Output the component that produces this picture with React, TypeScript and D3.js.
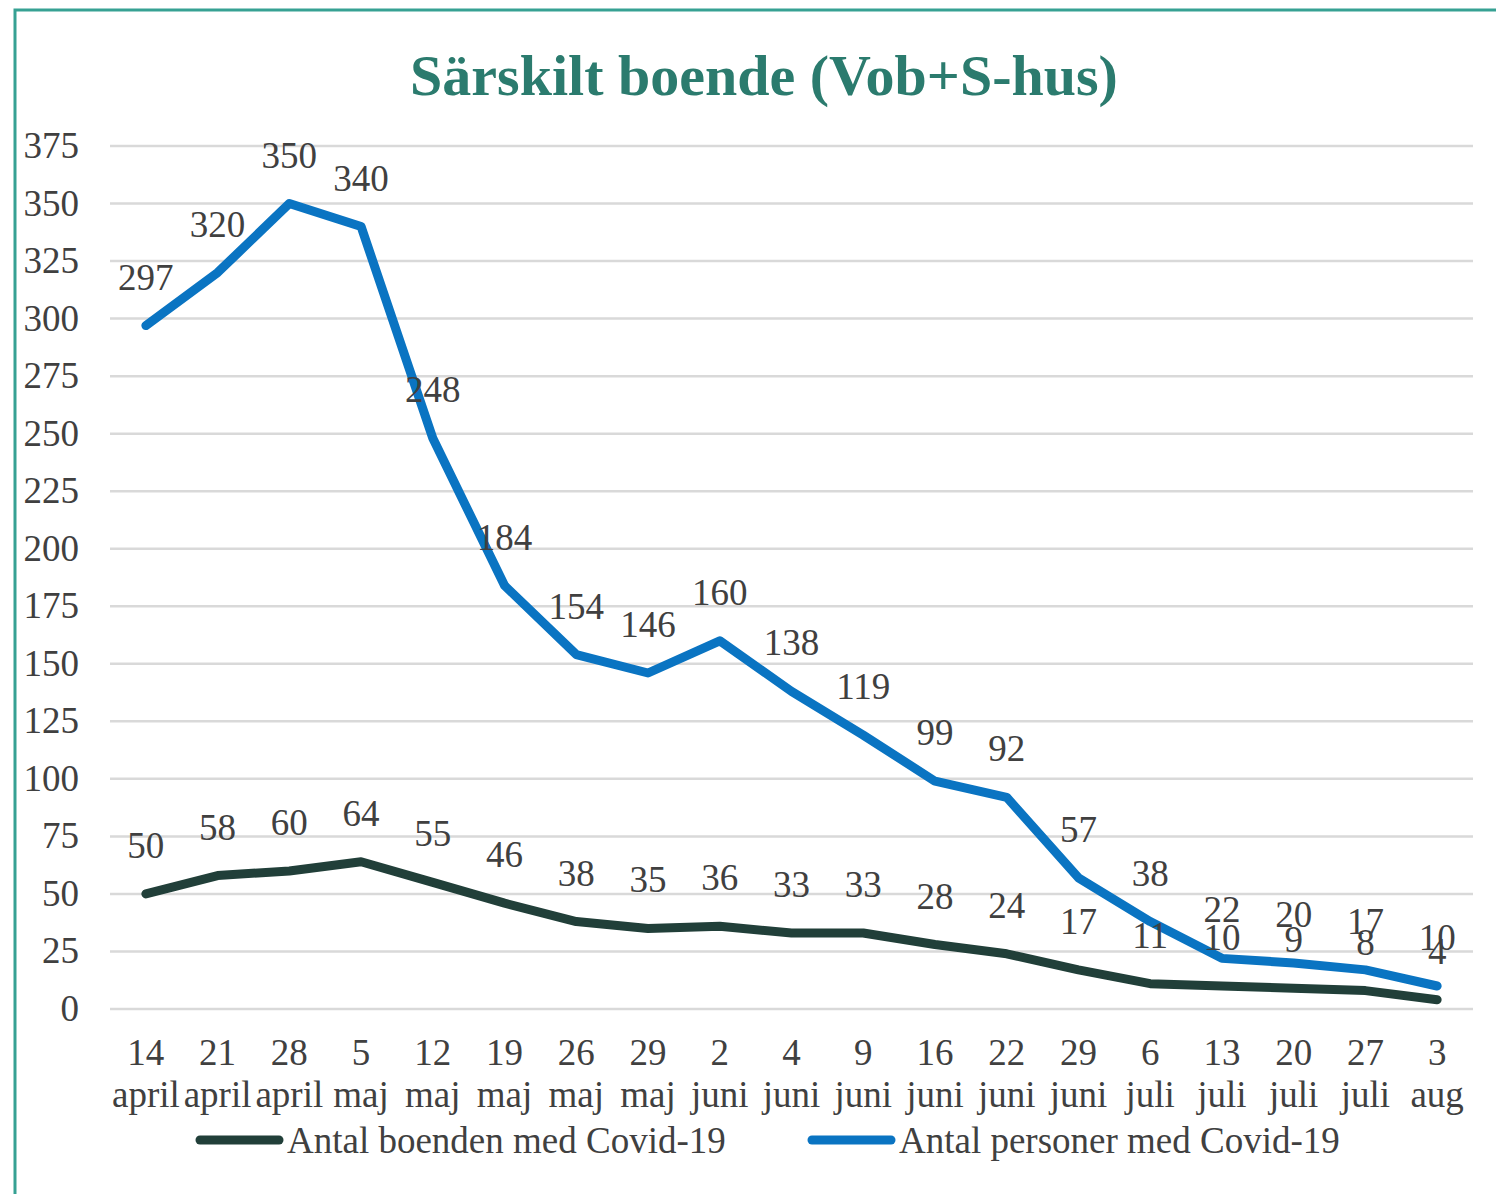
import React, { useEffect, useRef } from 'react';
import * as d3 from 'd3';

const dayLabels = ['14', '21', '28', '5', '12', '19', '26', '29', '2', '4', '9', '16', '22', '29', '6', '13', '20', '27', '3'];
const monthLabels = ['april', 'april', 'april', 'maj', 'maj', 'maj', 'maj', 'maj', 'juni', 'juni', 'juni', 'juni', 'juni', 'juni', 'juli', 'juli', 'juli', 'juli', 'aug'];
const boenden = [50, 58, 60, 64, 55, 46, 38, 35, 36, 33, 33, 28, 24, 17, 11, 10, 9, 8, 4];
const personer = [297, 320, 350, 340, 248, 184, 154, 146, 160, 138, 119, 99, 92, 57, 38, 22, 20, 17, 10];
const yTicks = [0, 25, 50, 75, 100, 125, 150, 175, 200, 225, 250, 275, 300, 325, 350, 375];

const seriesNames = ['Antal boenden med Covid-19', 'Antal personer med Covid-19'];
const seriesColors = ['#213F39', '#0A74C2'];

export default function App() {
  const svgRef = useRef<SVGSVGElement>(null);

  useEffect(() => {
    const width = 1496;
    const height = 1194;
    const svg = d3.select(svgRef.current);
    svg.selectAll('*').remove();
    svg.attr('width', width).attr('height', height);

    const font = '"Liberation Serif", "Times New Roman", serif';
    const textColor = '#404040';
    const fs = 37;

    svg.append('rect').attr('width', width).attr('height', height).attr('fill', '#fff');

    // ram runt diagrammet
    svg.append('path')
      .attr('d', `M15,${height + 5} L15,10 L${width + 5},10`)
      .attr('fill', 'none')
      .attr('stroke', '#36A193')
      .attr('stroke-width', 3);

    svg.append('text')
      .attr('x', 764)
      .attr('y', 95)
      .attr('text-anchor', 'middle')
      .attr('font-family', font)
      .attr('font-weight', 'bold')
      .attr('font-size', 58)
      .attr('fill', '#2B7B6E')
      .text('Särskilt boende (Vob+S-hus)');

    const x = d3.scalePoint<number>()
      .domain(d3.range(dayLabels.length))
      .range([110, 1473])
      .padding(0.5);

    const y = d3.scaleLinear().domain([0, 375]).range([1009, 146]);

    // rutnät
    svg.append('g')
      .selectAll('line')
      .data(yTicks)
      .enter().append('line')
      .attr('x1', 110)
      .attr('x2', 1473)
      .attr('y1', d => y(d))
      .attr('y2', d => y(d))
      .attr('stroke', '#D9D9D9')
      .attr('stroke-width', 2.5);

    svg.append('g')
      .selectAll('text')
      .data(yTicks)
      .enter().append('text')
      .attr('x', 79)
      .attr('y', d => y(d) + 12)
      .attr('text-anchor', 'end')
      .attr('font-family', font)
      .attr('font-size', fs)
      .attr('fill', textColor)
      .text(d => d);

    const xl = svg.append('g')
      .attr('font-family', font)
      .attr('font-size', fs)
      .attr('fill', textColor)
      .attr('text-anchor', 'middle');

    xl.selectAll('text.day')
      .data(dayLabels)
      .enter().append('text')
      .attr('class', 'day')
      .attr('x', (d, i) => x(i)!)
      .attr('y', 1065)
      .text(d => d);

    xl.selectAll('text.month')
      .data(monthLabels)
      .enter().append('text')
      .attr('class', 'month')
      .attr('x', (d, i) => x(i)!)
      .attr('y', 1107)
      .text(d => d);

    const line = d3.line<number>()
      .x((d, i) => x(i)!)
      .y(d => y(d));

    const allSeries = [boenden, personer];

    allSeries.forEach((values, s) => {
      svg.append('path')
        .datum(values)
        .attr('d', line)
        .attr('fill', 'none')
        .attr('stroke', seriesColors[s])
        .attr('stroke-width', 9)
        .attr('stroke-linejoin', 'round')
        .attr('stroke-linecap', 'round');
    });

    // dataetiketter ovanför punkterna
    allSeries.forEach((values) => {
      svg.append('g')
        .selectAll('text')
        .data(values)
        .enter().append('text')
        .attr('x', (d, i) => x(i)!)
        .attr('y', d => y(d) - 36)
        .attr('text-anchor', 'middle')
        .attr('font-family', font)
        .attr('font-size', fs)
        .attr('fill', textColor)
        .text(d => d);
    });

    // förklaring
    const legendX = [196, 808];
    seriesNames.forEach((name, s) => {
      const g = svg.append('g');
      g.append('line')
        .attr('x1', legendX[s] + 4)
        .attr('x2', legendX[s] + 83)
        .attr('y1', 1140)
        .attr('y2', 1140)
        .attr('stroke', seriesColors[s])
        .attr('stroke-width', 9)
        .attr('stroke-linecap', 'round');
      g.append('text')
        .attr('x', legendX[s] + 91)
        .attr('y', 1153)
        .attr('font-family', font)
        .attr('font-size', fs)
        .attr('fill', textColor)
        .text(name);
    });
  }, []);

  return (
    <div style={{ position: 'absolute', left: 0, top: 0 }}>
      <svg ref={svgRef} style={{ display: 'block' }}></svg>
    </div>
  );
}
